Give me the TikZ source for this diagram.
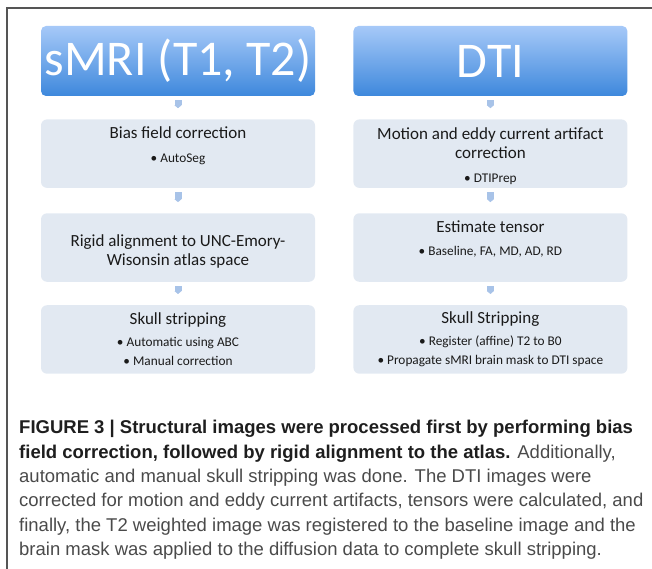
\documentclass[tikz,border=0pt]{standalone}
\usepackage{fontspec}
\setmainfont{Liberation Sans}
\newfontfamily\calfont{Carlito}
\usepackage{tikz}
\usetikzlibrary{arrows.meta, positioning}
\definecolor{framegray}{HTML}{555555}
\definecolor{headtop}{HTML}{A6C9F8}
\definecolor{headbot}{HTML}{3E88DC}
\definecolor{stepfill}{HTML}{E2E9F2}
\definecolor{chevron}{HTML}{A8C3E8}
\definecolor{ink}{HTML}{1A1A1A}
\definecolor{capbold}{HTML}{1E1E1E}
\definecolor{captext}{HTML}{4A4A4A}
\newcommand{\pts}[1]{{\fontsize{13.3}{17}\selectfont #1}}
\tikzset{
  headbox/.style ={rounded corners=5pt, top color=headtop, bottom color=headbot,
                   minimum width=274pt, minimum height=70pt, inner sep=0pt,
                   text=white, font=\calfont\fontsize{50}{54}\selectfont},
  stepbox/.style ={rounded corners=6pt, fill=stepfill, minimum width=274pt,
                   minimum height=68.5pt, align=center,
                   inner sep=0pt, text=ink, font=\calfont\fontsize{17}{19}\selectfont},
  chev/.style    ={line width=7pt, draw=chevron, -{Triangle[length=3pt,width=7pt]},
                   shorten <=4pt, shorten >=11pt},
  framerule/.style={draw=framegray, line width=1.5pt},
  capnode/.style ={anchor=north west, align=left, inner sep=0pt, text=captext,
                   font=\fontsize{18.5}{24.4}\selectfont}
}
\begin{document}
\begin{tikzpicture}[x=1pt, y=1pt]
  \useasboundingbox (0,0) rectangle (652,-569);
  \draw[framerule] (652,-8) -- (7,-8) -- (7,-569);

  % sMRI column
  \node[headbox] (smri) at (178,-61) {sMRI (T1, T2)};
  \node[stepbox, below=23pt of smri] (bias)
    {Bias field correction\\[5pt] \pts{• AutoSeg}\\ \mbox{}};
  \node[stepbox, below=25pt of bias] (rigid)
    {\mbox{}\\ Rigid alignment to UNC-Emory-\\ Wisonsin atlas space};
  \node[stepbox, below=23pt of rigid] (skull)
    {Skull stripping\\[3pt] \pts{• Automatic using ABC}\\ \pts{• Manual correction}};

  % DTI column
  \node[headbox, right=38pt of smri] (dti) {DTI};
  \node[stepbox, below=23pt of dti] (motion)
    {\mbox{}\\[-3pt] Motion and eddy current artifact\\ correction\\[5pt] \pts{• DTIPrep}};
  \node[stepbox, below=25pt of motion] (tensor)
    {Estimate tensor\\[4pt] \pts{• Baseline, FA, MD, AD, RD}\\ \mbox{}};
  \node[stepbox, below=23pt of tensor] (strip)
    {Skull Stripping\\[3pt] \pts{• Register (affine) T2 to B0}\\ \pts{• Propagate sMRI brain mask to DTI space}};

  \foreach \a/\b in {smri/bias, bias/rigid, rigid/skull, dti/motion, motion/tensor, tensor/strip}
    \draw[chev] (\a.south) -- (\b.north);

  % caption
  \node[capnode] (caption) at (19,-420)
    {\textcolor{capbold}{\textbf{FIGURE 3 | Structural images were processed first by performing bias}}\\
     \textcolor{capbold}{\textbf{field correction, followed by rigid alignment to the atlas.}} Additionally,\\
     automatic and manual skull stripping was done. The DTI images were\\
     corrected for motion and eddy current artifacts, tensors were calculated, and\\
     finally, the T2 weighted image was registered to the baseline image and the\\
     brain mask was applied to the diffusion data to complete skull stripping.};
\end{tikzpicture}
\end{document}
